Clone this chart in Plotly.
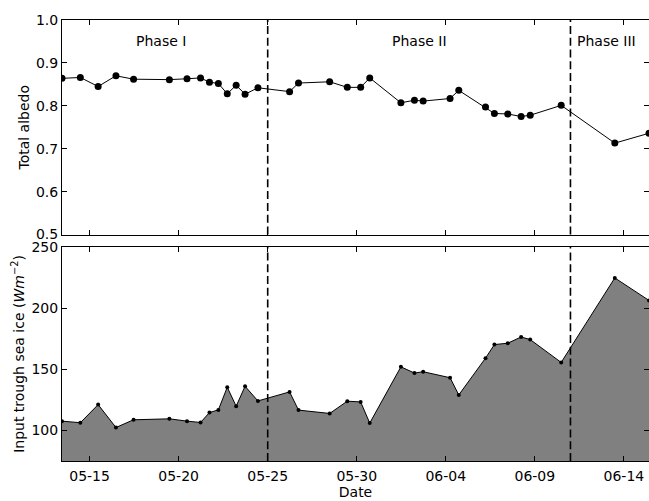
import plotly.graph_objects as go

dates = [
    "2015-05-13 10:48", "2015-05-14 11:30", "2015-05-15 11:30", "2015-05-16 11:30",
    "2015-05-17 11:15", "2015-05-19 11:30", "2015-05-20 11:15", "2015-05-21 05:30",
    "2015-05-21 17:30", "2015-05-22 05:30", "2015-05-22 17:30", "2015-05-23 05:30",
    "2015-05-23 17:30", "2015-05-24 10:50", "2015-05-26 05:30", "2015-05-26 17:30",
    "2015-05-28 11:30", "2015-05-29 11:15", "2015-05-30 05:15", "2015-05-30 17:30",
    "2015-06-01 11:30", "2015-06-02 05:45", "2015-06-02 17:30", "2015-06-04 05:45",
    "2015-06-04 17:30", "2015-06-06 05:30", "2015-06-06 17:30", "2015-06-07 11:30",
    "2015-06-08 05:30", "2015-06-08 17:45", "2015-06-10 11:30", "2015-06-13 11:45",
    "2015-06-15 09:50",
]
albedo = [
    0.864, 0.866, 0.845, 0.870, 0.862, 0.861, 0.863, 0.865, 0.855, 0.852, 0.828,
    0.848, 0.827, 0.842, 0.833, 0.853, 0.856, 0.843, 0.843, 0.865, 0.807, 0.813,
    0.811, 0.817, 0.836, 0.797, 0.782, 0.781, 0.775, 0.778, 0.801, 0.713, 0.736,
]
input_ice = [
    107.6, 106.3, 121.1, 102.4, 108.7, 109.5, 107.6, 106.5, 114.6, 116.8, 135.3,
    119.8, 136.1, 124.1, 131.5, 116.6, 113.9, 123.9, 123.3, 106.0, 152.0, 146.9,
    148.0, 143.1, 129.0, 159.1, 170.2, 171.3, 176.4, 174.3, 155.6, 224.7, 206.3,
]
phase_bounds = ["2015-05-25 00:00", "2015-06-11 00:00"]
phase_names = ["Phase I", "Phase II", "Phase III"]
phase_label_x = ["2015-05-19 00:45", "2015-06-02 13:00", "2015-06-13 00:00"]
phase_label_y = 0.95

tick_vals = ["2015-05-15", "2015-05-20", "2015-05-25", "2015-05-30",
             "2015-06-04", "2015-06-09", "2015-06-14"]
tick_text = ["05-15", "05-20", "05-25", "05-30", "06-04", "06-09", "06-14"]

FONT = "DejaVu Sans"

fig = go.Figure()
fig.add_trace(go.Scatter(
    x=dates, y=albedo, mode="lines+markers",
    line=dict(color="black", width=1),
    marker=dict(color="black", size=7),
    xaxis="x", yaxis="y", showlegend=False,
))
fig.add_trace(go.Scatter(
    x=dates, y=input_ice, mode="lines+markers", fill="tozeroy",
    fillcolor="#808080",
    line=dict(color="black", width=1),
    marker=dict(color="black", size=4),
    xaxis="x2", yaxis="y2", showlegend=False,
))

shapes = []
for b in phase_bounds:
    for yr in ["y domain", "y2 domain"]:
        shapes.append(dict(
            type="line", xref="x" if yr == "y domain" else "x2", yref=yr,
            x0=b, x1=b, y0=0, y1=1,
            line=dict(color="black", width=1.6, dash="8px,3.8px"),
        ))

annotations = []
for name, xv in zip(phase_names, phase_label_x):
    annotations.append(dict(
        x=xv, y=phase_label_y, xref="x", yref="y", text=name,
        showarrow=False, font=dict(family=FONT, size=14, color="black"),
    ))

xrange = [dates[0], dates[-1]]
axis_common = dict(
    showline=True, linecolor="black", linewidth=1, mirror="ticks",
    ticks="inside", ticklen=5, tickcolor="black", tickwidth=1,
    showgrid=False, zeroline=False, automargin=False,
    tickfont=dict(family=FONT, size=14, color="black"),
)

fig.update_layout(
    width=649, height=501,
    margin=dict(l=62, r=0, t=20, b=40),
    paper_bgcolor="white", plot_bgcolor="white",
    font=dict(family=FONT, size=14, color="black"),
    shapes=shapes, annotations=annotations,
    xaxis=dict(domain=[0, 1], anchor="y", range=xrange, type="date",
               tickvals=tick_vals, ticktext=tick_text, showticklabels=False,
               matches="x2", **axis_common),
    yaxis=dict(domain=[0.5136, 1], anchor="x", range=[0.5, 1.0],
               tickvals=[0.5, 0.6, 0.7, 0.8, 0.9, 1.0],
               ticktext=["0.5", "0.6", "0.7", "0.8", "0.9", "1.0"],
               title=dict(text="Total albedo", font=dict(family=FONT, size=14),
                          standoff=3),
               **axis_common),
    xaxis2=dict(domain=[0, 1], anchor="y2", range=xrange, type="date",
                tickvals=tick_vals, ticktext=tick_text, ticklabelstandoff=2,
                title=dict(text="Date", font=dict(family=FONT, size=14), standoff=2),
                **axis_common),
    yaxis2=dict(domain=[0, 0.4853], anchor="x2", range=[75, 250],
                tickvals=[100, 150, 200, 250],
                title=dict(text="Input trough sea ice (<i>Wm</i><sup>−2</sup>)",
                           font=dict(family=FONT, size=14), standoff=3),
                **axis_common),
)

fig.write_html("out.html",
               config={"displayModeBar": False},
               post_script="document.body.style.margin='0';document.body.style.padding='0';")
